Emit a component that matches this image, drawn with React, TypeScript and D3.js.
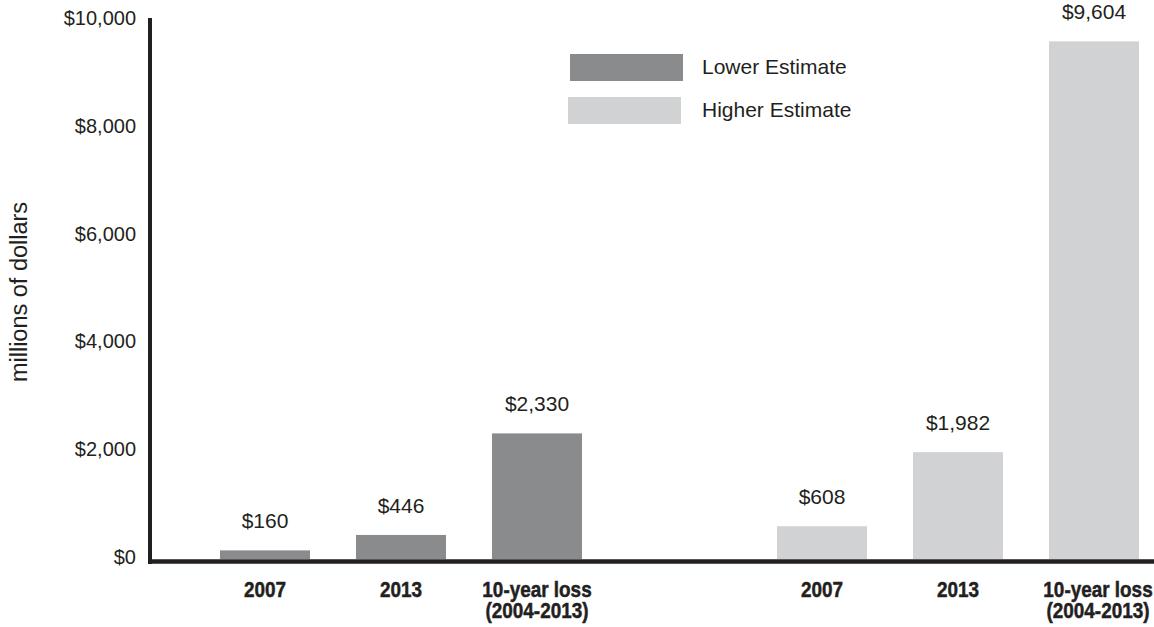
import React from "react";
import * as d3 from "d3";

const groups = ["Lower Estimate", "Higher Estimate"];
const categories = ["2007", "2013", "10-year"];
const categoryLines = [["2007"], ["2013"], ["10-year loss", "(2004-2013)"]];
const lowerValues = [160, 446, 2330];
const higherValues = [608, 1982, 9604];
const yTicks = [0, 2000, 4000, 6000, 8000, 10000];

const W = 1154;
const H = 627;
const colors: Record<string, string> = {
  "Lower Estimate": "#8a8b8d",
  "Higher Estimate": "#d1d2d4",
};
const ink = "#231f20";
const sans = "'Liberation Sans', Arial, Helvetica, sans-serif";

export default function App() {
  const y = d3.scaleLinear().domain([0, 10000]).range([559, 20]);
  const outer = d3.scaleBand<string>().domain(groups).range([197, 1162]).paddingInner(149 / 557).paddingOuter(0);
  const inner = d3
    .scaleBand<string>()
    .domain(categories)
    .range([0, outer.bandwidth()])
    .paddingInner(46 / 136)
    .paddingOuter(23 / 136);
  const fmt = (v: number) => "$" + d3.format(",")(v);
  const series = [lowerValues, higherValues];

  return (
    <svg width={W} height={H} style={{ position: "absolute", left: 0, top: 0, background: "#fff" }}>
      {/* y-axis title */}
      <text
        transform={`translate(27, 292) rotate(-90)`}
        textAnchor="middle"
        fontFamily={sans}
        fontSize={23.5}
        fill={ink}
      >
        millions of dollars
      </text>
      {/* y tick labels */}
      {yTicks.map((t) => (
        <text
          key={t}
          x={136}
          y={y(t) - 2}
          textAnchor="end"
          dominantBaseline="central"
          fontFamily={sans}
          fontSize={20}
          fill={ink}
        >
          {fmt(t)}
        </text>
      ))}
      {/* bars */}
      {groups.map((g, gi) =>
        categories.map((c, ci) => {
          const v = series[gi][ci];
          const x = (outer(g) as number) + (inner(c) as number);
          const bw = inner.bandwidth();
          const cx = x + bw / 2 + (ci === 2 && gi === 1 ? 4 : 0);
          return (
            <g key={g + c}>
              <rect x={x} y={y(v)} width={bw} height={y(0) - y(v)} fill={colors[g]} />
              <text
                x={x + bw / 2}
                y={y(v) - 22}
                textAnchor="middle"
                fontFamily={sans}
                fontSize={21}
                fill={ink}
              >
                {fmt(v)}
              </text>
              <g transform={`translate(${cx}, 597) scale(0.86, 1)`}>
                <text
                  x={0}
                  y={0}
                  textAnchor="middle"
                  fontFamily={sans}
                  fontWeight="bold"
                  fontSize={22}
                  fill={ink}
                  stroke={ink}
                  strokeWidth={0.5}
                >
                  {categoryLines[ci].map((line, li) => (
                    <tspan key={li} x={0} dy={li === 0 ? 0 : 21}>
                      {line}
                    </tspan>
                  ))}
                </text>
              </g>
            </g>
          );
        })
      )}
      {/* axes */}
      <line x1={150} x2={150} y1={18} y2={564} stroke={ink} strokeWidth={4} />
      <line x1={148} x2={W} y1={561.5} y2={561.5} stroke={ink} strokeWidth={4.5} />
      {/* legend */}
      {groups.map((g, i) => (
        <g key={g} transform={`translate(${570 - i * 2}, ${54 + i * 43})`}>
          <rect x={0} y={0} width={113} height={27} fill={colors[g]} />
          <text x={132 + i * 2} y={20} fontFamily={sans} fontSize={21} fill={ink}>
            {g}
          </text>
        </g>
      ))}
    </svg>
  );
}
